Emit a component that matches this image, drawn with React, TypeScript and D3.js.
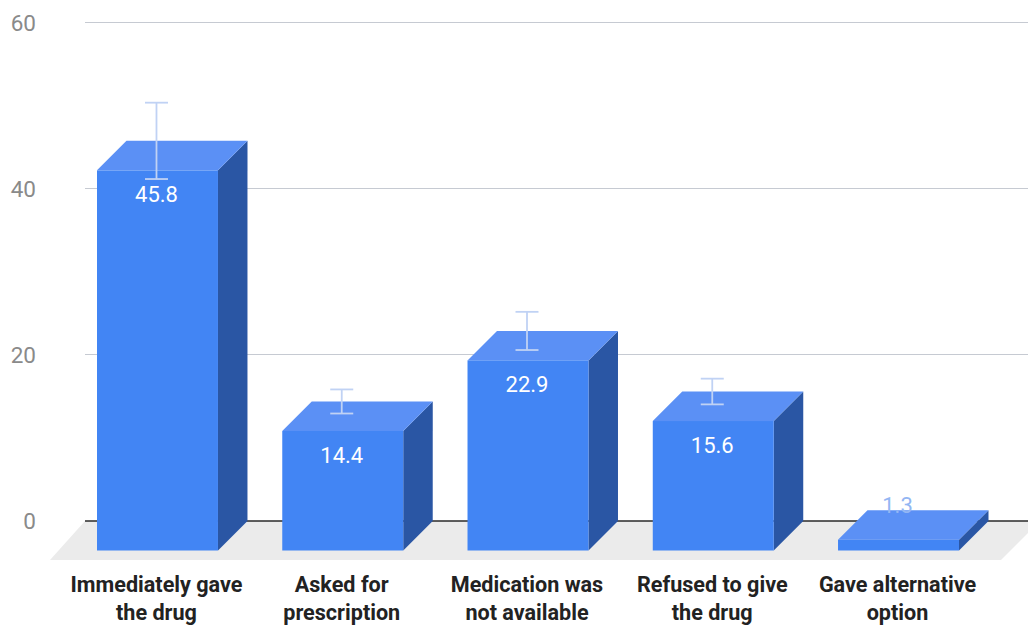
import React from "react";
import * as d3 from "d3";

const categories = [
  ["Immediately gave", "the drug"],
  ["Asked for", "prescription"],
  ["Medication was", "not available"],
  ["Refused to give", "the drug"],
  ["Gave alternative", "option"],
];
const values = [45.8, 14.4, 22.9, 15.6, 1.3];
const errors = [4.6, 1.45, 2.3, 1.55, 0];
const ticks = [0, 20, 40, 60];

const W = 1028;
const H = 630;
const DEPTH = 29.5;
const y = d3.scaleLinear().domain([0, 60]).range([521, 23]);
const x = d3.scaleBand<number>().domain(d3.range(values.length)).range([97, 959]).paddingInner(0.347).paddingOuter(0);
const BAR_W = x.bandwidth();
const left = (i: number) => x(i)!;
const poly = (pts: [number, number][]) => d3.line()(pts)! + "Z";
const FONT = "Roboto, sans-serif";

export default function App() {
  return (
    <svg width={W} height={H} style={{ position: "fixed", left: 0, top: 0, background: "#fff" }}>
      {ticks.map((t) => (
        <g key={t}>
          {t !== 0 && <line x1={85} x2={W} y1={y(t) - 0.5} y2={y(t) - 0.5} stroke="#c6cad2" strokeWidth={1.2} />}
          <text x={36} y={y(t) + 8} textAnchor="end" fontFamily={FONT} fontSize={22.5} fill="#8a8a8a">{t}</text>
        </g>
      ))}
      <path d={poly([[85, 521], [1040, 521], [1001, 560], [50, 560]])} fill="#ebebeb" />
      <line x1={85} x2={W} y1={y(0)} y2={y(0)} stroke="#2a2a2a" strokeWidth={1.4} />
      {values.map((v, i) => {
        const x0 = left(i);
        const x1 = x0 + BAR_W;
        const backTop = y(v);
        const frontTop = backTop + DEPTH;
        const frontBottom = y(0) + DEPTH;
        return (
          <g key={i}>
            <path d={poly([[x1, frontTop], [x1 + DEPTH, backTop], [x1 + DEPTH, y(0)], [x1, frontBottom]])} fill="#2a56a4" />
            <path d={poly([[x0, frontTop], [x0 + DEPTH, backTop], [x1 + DEPTH, backTop], [x1, frontTop]])} fill="#5b90f5" />
            <rect x={x0} y={frontTop} width={BAR_W} height={frontBottom - frontTop} fill="#4285f4" />
          </g>
        );
      })}
      {values.map((v, i) => {
        if (!errors[i]) return null;
        const cx = left(i) + BAR_W / 2 - 1;
        const top = y(v + errors[i]);
        const bot = y(v - errors[i]);
        return (
          <g key={i} stroke="#c0d2f4" strokeWidth={1.8} fill="none">
            <line x1={cx} x2={cx} y1={top} y2={bot} />
            <line x1={cx - 11.5} x2={cx + 11.5} y1={top} y2={top} />
            <line x1={cx - 11.5} x2={cx + 11.5} y1={bot} y2={bot} />
          </g>
        );
      })}
      {values.map((v, i) => {
        const cx = left(i) + BAR_W / 2 - 1;
        const small = v < 5;
        return (
          <text key={i} x={cx} y={small ? 513 : y(v) + DEPTH + 32} textAnchor="middle" fontFamily={FONT} fontSize={22}
            fill={small ? "#93b6f3" : "#ffffff"}>{v}</text>
        );
      })}
      {categories.map((lines, i) => (
        <text key={i} textAnchor="middle" fontFamily={FONT} fontSize={21.6} fontWeight={700} fill="#222">
          {lines.map((l, k) => (
            <tspan key={k} x={left(i) + BAR_W / 2 - 1} y={592 + k * 28}>{l}</tspan>
          ))}
        </text>
      ))}
    </svg>
  );
}
